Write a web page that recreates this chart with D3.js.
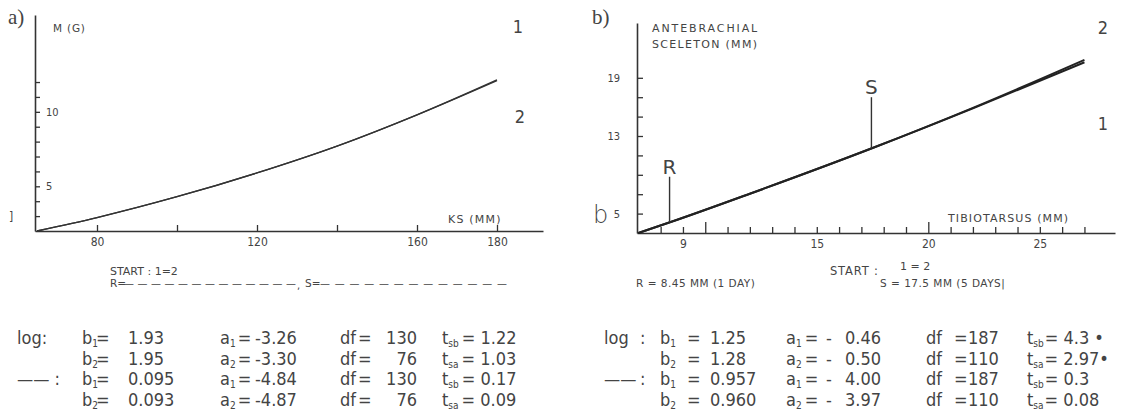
<!DOCTYPE html>
<html><head><meta charset="utf-8">
<script src="https://cdn.jsdelivr.net/npm/d3@7"></script>
<style>
body{margin:0;background:#fff;}
svg{display:block;}
text{font-family:"DejaVu Sans Condensed","DejaVu Sans",sans-serif;font-stretch:condensed;fill:#444;}
.wide{font-family:"DejaVu Sans",sans-serif;font-stretch:normal;}
</style></head><body>
<svg id="c" width="1140" height="416"></svg>
<script>
// ---- Panel a data: body mass M (g) against KS (mm)
const ksMM = [65, 80, 100, 120, 140, 160, 180];
const massG1 = [2.0, 2.9, 4.3, 5.9, 7.7, 9.8, 12.1];
const massG2 = [2.0, 2.9, 4.3, 5.9, 7.7, 9.8, 12.15];
const ksTicks = [80, 100, 120, 140, 160, 180];
const ksTickLabels = [80, 120, 160, 180];
const massTicks = [3, 4, 5, 6, 7, 8, 9, 10, 11, 12];
const massTickLabels = [5, 10];

// ---- Panel b data: antebrachial skeleton (mm) against tibiotarsus (mm)
const tibMM = [7, 8.45, 12, 17.5, 22, 27];
const ante1 = [3.0, 4.13, 7.05, 11.76, 15.85, 20.6];
const ante2 = [3.0, 4.13, 7.05, 11.76, 15.9, 20.85];
const tibTicks = d3.range(8, 28);
const tibTickLabels = [9, 15, 20, 25];
const tibMajorTicks = [10, 20];
const anteTicks = [5, 7, 9, 11, 13, 15, 17, 19];
const anteTickLabels = [5, 13, 19];
const markerNames = ["R", "S"];
const markerTib = [8.4, 17.45];
const markerTop = [8.8, 17.0];

// ---- statistics tables
const rowPrefix = ["log:", "", "\u2014\u2014 :", ""];
const idx = ["1", "2", "1", "2"];
const tSub = ["sb", "sa", "sb", "sa"];
const aB = ["1.93", "1.95", "0.095", "0.093"];
const aA = ["-3.26", "-3.30", "-4.84", "-4.87"];
const aDf = ["130", "76", "130", "76"];
const aT = ["1.22", "1.03", "0.17", "0.09"];
const bPrefix = ["log", "", "\u2014\u2014", ""];
const bB = ["1.25", "1.28", "0.957", "0.960"];
const bASign = ["-", "-", "-", "-"];
const bA = ["0.46", "0.50", "4.00", "3.97"];
const bDf = ["187", "110", "187", "110"];
const bT = ["4.3 \u2022", "2.97\u2022", "0.3", "0.08"];

const svg = d3.select("#c");
const ink = "#333";

function styleAxis(g, fs) {
  g.select(".domain").attr("stroke", ink).attr("stroke-width", 1.6);
  g.selectAll(".tick line").attr("stroke", ink).attr("stroke-width", 1.3);
  g.selectAll(".tick text").attr("font-size", fs).attr("fill", "#444");
}
function label(x, y, s, fs, opts = {}) {
  const t = svg.append("text").attr("x", x).attr("y", y).attr("font-size", fs)
    .attr("text-anchor", opts.anchor || "start").text(s);
  if (opts.wide) t.attr("class", "wide");
  if (opts.ls) t.attr("letter-spacing", opts.ls);
  return t;
}

// ================= Panel a =================
const xA = d3.scaleLinear().domain([64.5, 191.5]).range([35, 543]);
const yA = d3.scaleLinear().domain([2, 16.5]).range([231, 15]);

svg.append("g").attr("transform", "translate(0,231)")
  .call(d3.axisBottom(xA).tickValues(ksTicks).tickSizeInner(-6).tickSizeOuter(0).tickPadding(6)
    .tickFormat(d => ksTickLabels.includes(d) ? d : ""))
  .call(g => styleAxis(g, 12));

svg.append("g").attr("transform", "translate(35,0)")
  .call(d3.axisRight(yA).tickValues(massTicks).tickSizeInner(5).tickSizeOuter(0).tickPadding(6)
    .tickFormat(d => massTickLabels.includes(d) ? d : ""))
  .call(g => styleAxis(g, 11));

const lineA = s => d3.line().x((d, i) => xA(ksMM[i])).y(d => yA(d)).curve(d3.curveMonotoneX)(s);
[massG1, massG2].forEach(s => svg.append("path").attr("d", lineA(s))
  .attr("fill", "none").attr("stroke", ink).attr("stroke-width", 1.3));

svg.append("text").attr("x", 8).attr("y", 24).attr("font-size", 21)
  .style("font-family", "'Liberation Serif',serif").style("font-stretch", "normal").attr("fill", "#222").text("a)");
label(53, 32, "M (G)", 10.5, { wide: true, ls: 0.8 });
label(518, 33, "1", 18, { anchor: "middle" });
label(520, 123, "2", 18, { anchor: "middle" });
label(448, 223, "KS (MM)", 11, { wide: true, ls: 1.2 });
label(9, 221, "]", 12);
label(110, 275, "START : 1=2", 11, { wide: true });
label(110, 287, "R=", 10.5, { wide: true });
svg.append("text").attr("x", 124).attr("y", 287).attr("font-size", 11).attr("textLength", 172)
  .attr("lengthAdjust", "spacing").text("\u2014".repeat(13));
label(297, 289, ",", 11);
label(305, 287, "S=", 10.5, { wide: true });
svg.append("text").attr("x", 320).attr("y", 287).attr("font-size", 11).attr("textLength", 187)
  .attr("lengthAdjust", "spacing").text("\u2014".repeat(13));

// ================= Panel b =================
const xB = d3.scaleLinear().domain([6.94, 28.37]).range([637, 1115]);
const yB = d3.scaleLinear().domain([3, 24.65]).range([233, 23]);

svg.append("g").attr("transform", "translate(0,233)")
  .call(d3.axisBottom(xB).tickValues(tibTicks).tickSizeInner(-6).tickSizeOuter(0).tickPadding(6)
    .tickFormat(d => tibTickLabels.includes(d) ? d : ""))
  .call(g => styleAxis(g, 12))
  .call(g => g.selectAll(".tick").filter(d => tibMajorTicks.includes(d)).select("line").attr("y2", -11));

svg.append("g").attr("transform", "translate(637,0)")
  .call(d3.axisLeft(yB).tickValues(anteTicks).tickSizeInner(-6).tickSizeOuter(0).tickPadding(17)
    .tickFormat(d => anteTickLabels.includes(d) ? d : ""))
  .call(g => styleAxis(g, 11));

const lineB = s => d3.line().x((d, i) => xB(tibMM[i])).y(d => yB(d)).curve(d3.curveMonotoneX)(s);
[ante1, ante2].forEach(s => svg.append("path").attr("d", lineB(s))
  .attr("fill", "none").attr("stroke", "#222").attr("stroke-width", 2));

function interp(xs, ys, x) {
  for (let i = 1; i < xs.length; i++) {
    if (x <= xs[i]) { const t = (x - xs[i - 1]) / (xs[i] - xs[i - 1]); return ys[i - 1] + t * (ys[i] - ys[i - 1]); }
  }
  return ys[ys.length - 1];
}
markerNames.forEach((n, i) => {
  const x = xB(markerTib[i]);
  svg.append("line").attr("x1", x).attr("x2", x)
    .attr("y1", yB(markerTop[i])).attr("y2", yB(interp(tibMM, ante1, markerTib[i])))
    .attr("stroke", ink).attr("stroke-width", 1.4);
  label(x, yB(markerTop[i]) - 3, n, 20, { anchor: "middle", wide: true });
});

svg.append("text").attr("x", 592).attr("y", 24).attr("font-size", 21)
  .style("font-family", "'Liberation Serif',serif").style("font-stretch", "normal").attr("fill", "#222").text("b)");
label(652, 32, "ANTEBRACHIAL", 11, { wide: true, ls: 1.9 });
label(652, 48, "SCELETON (MM)", 11, { wide: true, ls: 1.3 });
label(1103, 34, "2", 18, { anchor: "middle" });
label(1103, 130, "1", 18, { anchor: "middle" });
svg.append("text").attr("x", 593).attr("y", 223).attr("font-size", 24).attr("font-weight", 200)
  .style("font-family", "'DejaVu Sans',sans-serif").style("font-stretch", "normal").attr("fill", "#666").text("b");
label(948, 222, "TIBIOTARSUS (MM)", 11, { wide: true, ls: 1.1 });
label(636, 287, "R = 8.45 MM (1 DAY)", 10.5, { wide: true, ls: 0.5 });
label(830, 275, "START :", 11.5, { wide: true, ls: 0.8 });
label(900, 270, "1 = 2", 11, { wide: true });
label(880, 287, "S = 17.5 MM  (5 DAYS|", 10.5, { wide: true, ls: 0.5 });

// ================= Tables =================
const rowY = [344, 364.5, 385, 405.5];
const tfs = 18;
const tcol = "#4a4a4a";
function put(x, y, s, opts = {}) {
  return svg.append("text").attr("x", x).attr("y", y).attr("font-size", opts.fs || tfs)
    .attr("text-anchor", opts.anchor || "start").attr("fill", tcol).text(s);
}
// letter + subscript + trailing text in ONE text element
function sym(x, y, letter, sub, tail, tailDx) {
  const t = svg.append("text").attr("x", x).attr("y", y).attr("font-size", tfs).attr("fill", tcol);
  t.append("tspan").text(letter);
  t.append("tspan").attr("font-size", 10).attr("dy", 3).text(sub);
  if (tail) t.append("tspan").attr("dy", -3).attr("dx", tailDx).text(tail);
  return t;
}
// panel a table
rowY.forEach((y, i) => {
  if (rowPrefix[i]) put(17, y, rowPrefix[i]);
  sym(82, y, "b", idx[i], "=", -2);
  put(128, y, aB[i]);
  sym(220, y, "a", idx[i], "=", 2);
  put(255, y, aA[i]);
  put(340, y, "df");
  put(358, y, "=");
  put(417, y, aDf[i], { anchor: "end" });
  sym(442, y, "t", tSub[i], "= " + aT[i], 3);
});
// panel b table
rowY.forEach((y, i) => {
  if (bPrefix[i]) { put(604, y, bPrefix[i]); put(640, y, ":"); }
  sym(660, y, "b", idx[i], "=", 11);
  put(710, y, bB[i]);
  sym(786, y, "a", idx[i], "=", 3);
  put(826, y, bASign[i]);
  put(845, y, bA[i]);
  put(926, y, "df");
  put(954, y, "=");
  put(968, y, bDf[i]);
  sym(1027, y, "t", tSub[i], "= " + bT[i], 1);
});
</script>
</body></html>
